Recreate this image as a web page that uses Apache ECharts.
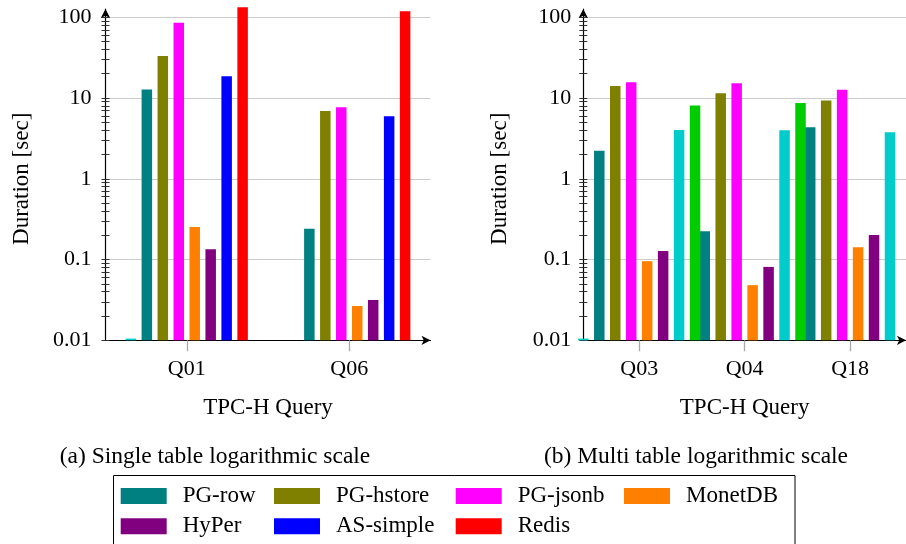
<!DOCTYPE html>
<html><head><meta charset="utf-8">
<script src="https://cdn.jsdelivr.net/npm/echarts@6/dist/echarts.min.js"></script>
<style>html,body{margin:0;padding:0;background:#fff}#c{width:906px;height:544px}</style>
</head><body><div id="c"></div>
<script>
// ---- categories / labels ----
const leftCats = ['Q01', 'Q06'];
const rightCats = ['Q03', 'Q04', 'Q18'];
const legendNames = ['PG-row', 'PG-hstore', 'PG-jsonb', 'MonetDB', 'HyPer', 'AS-simple', 'Redis'];
const yTickLabels = [0.01, 0.1, 1, 10, 100];

// ---- (a) single table, values in seconds ----
const singleUnlabelled = [0.0105, null];
const pgRowSingle = [12.8, 0.24];
const pgHstoreSingle = [33.2, 6.9];
const pgJsonbSingle = [85.7, 7.7];
const monetSingle = [0.253, 0.0266];
const hyperSingle = [0.134, 0.0316];
const asSimpleSingle = [18.6, 5.94];
const redisSingle = [133, 118.6];

// ---- (b) multi table, values in seconds ----
const multiUnlabelled1 = [0.0105, null, null];
const pgRowMulti = [2.23, 0.224, 4.34];
const pgHstoreMulti = [14.1, 11.5, 9.35];
const pgJsonbMulti = [15.7, 15.3, 12.65];
const monetMulti = [0.0955, 0.0482, 0.142];
const hyperMulti = [0.128, 0.081, 0.202];
const multiUnlabelled7 = [4.02, 4.0, 3.76];
const multiUnlabelled8 = [8.11, 8.67, null];

const F = 'Liberation Serif';
const C = {
  teal: '#008080', olive: '#808000', magenta: '#ff00ff', orange: '#ff8000',
  purple: '#800080', blue: '#0000ff', red: '#ff0000', cyan: '#00cccc', green: '#00cc00'
};

const minorTicks = [];
[0.01, 0.1, 1, 10].forEach(d => { for (let k = 2; k <= 9; k++) minorTicks.push(+(d * k).toPrecision(2)); });
const allTicks = yTickLabels.concat(minorTicks);

function bar(name, color, values, xi, yi, clip) {
  return {
    type: 'bar', name: name, xAxisIndex: xi, yAxisIndex: yi, clip: clip,
    barWidth: 10.5, barGap: '52%',
    itemStyle: { color: color },
    emphasis: { disabled: true },
    data: values.map((v, i) => v == null ? null : [i, v]).filter(d => d)
  };
}

function fmtY(v) { return String(+Number(v).toPrecision(2)); }

function xAxisMain(gi, min, max, cats) {
  const vals = cats.map((c, i) => i);
  return {
    type: 'value', gridIndex: gi, min: min, max: max,
    axisLine: { show: true, onZero: false, symbol: ['none', 'arrow'], symbolSize: [7, 9], lineStyle: { color: '#000', width: 1.2 } },
    axisTick: { show: true, inside: false, length: 11, customValues: vals, lineStyle: { color: '#aaaaaa', width: 1.3 } },
    axisLabel: { customValues: vals, formatter: v => cats[Math.round(v)], margin: 18, fontFamily: F, fontSize: 22, color: '#000' },
    splitLine: { show: false },
    name: 'TPC-H Query', nameLocation: 'middle', nameGap: 56,
    nameTextStyle: { fontFamily: F, fontSize: 23, color: '#000' }
  };
}
function yAxisMain(gi, margin) {
  return {
    type: 'log', logBase: 10, gridIndex: gi, position: 'left', min: 0.01, max: 100, startValue: 0.01,
    axisLine: { show: false, onZero: false },
    axisTick: { show: true, inside: false, length: 4, lineStyle: { color: '#333' } },
    axisLabel: { customValues: yTickLabels, formatter: fmtY, margin: margin, fontFamily: F, fontSize: 22, color: '#000' },
    splitLine: { show: true, lineStyle: { color: '#cccccc', width: 1 } },
    name: 'Duration [sec]', nameLocation: 'middle', nameGap: 72,
    nameTextStyle: { fontFamily: F, fontSize: 23, color: '#000' }
  };
}
function yAxisTicks(gi, inside, vals) {
  return {
    type: 'log', logBase: 10, gridIndex: gi, position: 'left', offset: 0, min: 0.01, max: 100,
    axisLine: { show: false, onZero: false },
    axisTick: { show: true, inside: inside, length: 4, customValues: vals, lineStyle: { color: '#333' } },
    axisLabel: { show: false }, splitLine: { show: false }
  };
}
function yAxisArrow(gi) {
  return {
    type: 'value', gridIndex: gi, position: 'left', min: 0, max: 1,
    axisLine: { show: true, onZero: false, symbol: ['none', 'arrow'], symbolSize: [7, 9], lineStyle: { color: '#000', width: 1.2 } },
    axisTick: { show: false }, axisLabel: { show: false }, splitLine: { show: false }
  };
}

const legendPos = [
  [120.7, 484], [274, 484], [455.7, 484], [624, 484],
  [120.7, 514.2], [274, 514.2], [455.7, 514.2]
];
const legends = legendNames.map((n, i) => ({
  data: [{ name: n, icon: 'rect' }],
  left: legendPos[i][0], top: legendPos[i][1], padding: 0,
  itemWidth: 46, itemHeight: 16, selectedMode: false,
  textStyle: { fontFamily: F, fontSize: 23, color: '#000', lineHeight: 24, padding: [0, 0, 0, 11] }
}));

const option = {
  animation: false,
  grid: [
    { left: 105.5, top: 17.3, width: 325, height: 323 },
    { left: 583.3, top: 17.3, width: 331.7, height: 323 },
    { left: 105.5, top: 9, width: 10, height: 331.3 },
    { left: 583.3, top: 9, width: 10, height: 331.3 }
  ],
  xAxis: [
    xAxisMain(0, -0.5, 1.5, leftCats),
    xAxisMain(1, -0.53, 2.53, rightCats),
    { type: 'value', gridIndex: 2, show: false },
    { type: 'value', gridIndex: 3, show: false }
  ],
  yAxis: [
    yAxisMain(0, 14), yAxisTicks(0, true, allTicks), yAxisTicks(0, false, minorTicks),
    yAxisMain(1, 12), yAxisTicks(1, true, allTicks), yAxisTicks(1, false, minorTicks),
    yAxisArrow(2), yAxisArrow(3)
  ],
  legend: legends,
  series: [
    bar('single-unlabelled', C.cyan, singleUnlabelled, 0, 0, false),
    bar('PG-row', C.teal, pgRowSingle, 0, 0, false),
    bar('PG-hstore', C.olive, pgHstoreSingle, 0, 0, false),
    bar('PG-jsonb', C.magenta, pgJsonbSingle, 0, 0, false),
    bar('MonetDB', C.orange, monetSingle, 0, 0, false),
    bar('HyPer', C.purple, hyperSingle, 0, 0, false),
    bar('AS-simple', C.blue, asSimpleSingle, 0, 0, false),
    bar('Redis', C.red, redisSingle, 0, 0, false),
    bar('multi-unlabelled-1', C.cyan, multiUnlabelled1, 1, 3, true),
    bar('PG-row', C.teal, pgRowMulti, 1, 3, true),
    bar('PG-hstore', C.olive, pgHstoreMulti, 1, 3, true),
    bar('PG-jsonb', C.magenta, pgJsonbMulti, 1, 3, true),
    bar('MonetDB', C.orange, monetMulti, 1, 3, true),
    bar('HyPer', C.purple, hyperMulti, 1, 3, true),
    bar('multi-unlabelled-7', C.cyan, multiUnlabelled7, 1, 3, true),
    bar('multi-unlabelled-8', C.green, multiUnlabelled8, 1, 3, true)
  ],
  graphic: [
    { type: 'rect', shape: { x: 113.5, y: 475.5, width: 681.5, height: 80 }, style: { fill: 'none', stroke: '#000', lineWidth: 1 }, silent: true },
    { type: 'text', x: 215, y: 457, style: { text: '(a) Single table logarithmic scale', font: '23.5px "Liberation Serif"', fill: '#000', textAlign: 'center', textVerticalAlign: 'middle' } },
    { type: 'text', x: 696, y: 457, style: { text: '(b) Multi table logarithmic scale', font: '23.5px "Liberation Serif"', fill: '#000', textAlign: 'center', textVerticalAlign: 'middle' } }
  ]
};

const chart = echarts.init(document.getElementById('c'), null, { renderer: 'canvas' });
chart.setOption(option);
</script>
</body></html>
